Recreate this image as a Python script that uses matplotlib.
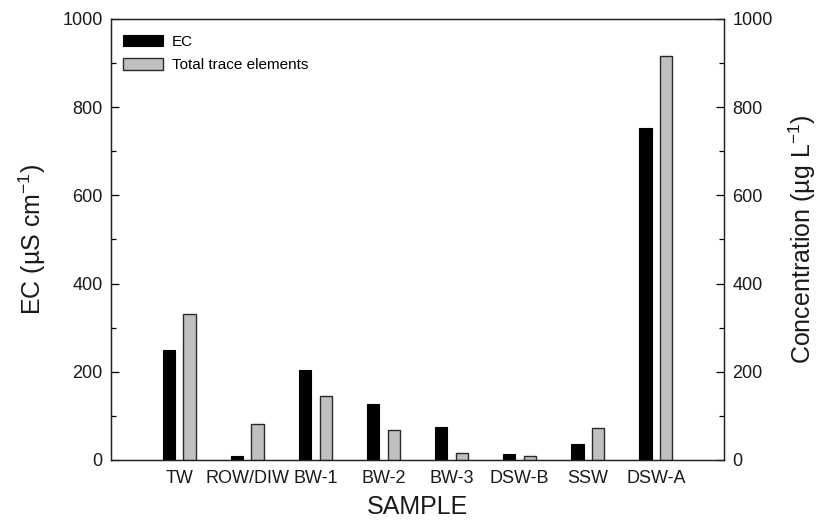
import matplotlib
matplotlib.use("Agg")
import matplotlib.pyplot as plt
import numpy as np
from matplotlib.ticker import MultipleLocator

plt.rcParams["font.family"] = ["Liberation Sans", "DejaVu Sans"]
plt.rcParams["mathtext.fontset"] = "custom"
plt.rcParams["mathtext.rm"] = "Liberation Sans"

samples = ["TW", "ROW/DIW", "BW-1", "BW-2", "BW-3", "DSW-B", "SSW", "DSW-A"]
ec = [250, 8, 204, 128, 75, 14, 36, 753]
trace_total = [330, 82, 144, 68, 15, 8, 72, 915]

fig = plt.figure(figsize=(8.17, 5.23), dpi=100)
ax = fig.add_axes([0.1359, 0.1205, 0.7503, 0.8432])
ax2 = ax.twinx()

x = np.arange(1, len(samples) + 1)
w = 0.18
off = 0.152
ax.bar(x - off, ec, width=w, color="black", edgecolor="black", linewidth=0.8, label="EC")
ax2.bar(x + off, trace_total, width=w, color="#c0c0c0", edgecolor="#2a2a2a", linewidth=1.0,
        label="Total trace elements")

for a in (ax, ax2):
    a.set_ylim(0, 1000)
    a.yaxis.set_major_locator(MultipleLocator(200))
    a.yaxis.set_minor_locator(MultipleLocator(100))
    a.tick_params(axis="y", which="major", direction="in", length=6, width=0.9,
                  labelsize=13, pad=6, labelcolor="#1a1a1a")
    a.tick_params(axis="y", which="minor", direction="in", length=3.5, width=0.9)
    for s in a.spines.values():
        s.set_linewidth(0.9)
        s.set_color("#222222")

ax.set_xlim(0, 9)
ax.set_xticks(x)
ax.set_xticklabels(samples)
ax.tick_params(axis="x", length=0, labelsize=13, pad=7, labelcolor="#1a1a1a")

lab_kw = dict(fontsize=18, color="#1a1a1a")
ax.set_ylabel(r"EC (µS cm$\mathregular{^{-1}}$)", labelpad=10, **lab_kw)
ax2.set_ylabel(r"Concentration (µg L$\mathregular{^{-1}}$)", labelpad=10, **lab_kw)
ax.set_xlabel("SAMPLE", labelpad=6, **lab_kw)

h1, l1 = ax.get_legend_handles_labels()
h2, l2 = ax2.get_legend_handles_labels()
ax2.legend(h1 + h2, l1 + l2, loc="upper left", bbox_to_anchor=(12 / 613, 1 - 16 / 441),
           frameon=False, fontsize=11, handlelength=2.6, handleheight=0.78,
           handletextpad=0.6, labelspacing=0.6, borderpad=0, borderaxespad=0)

fig.savefig("out.png", dpi=100)
